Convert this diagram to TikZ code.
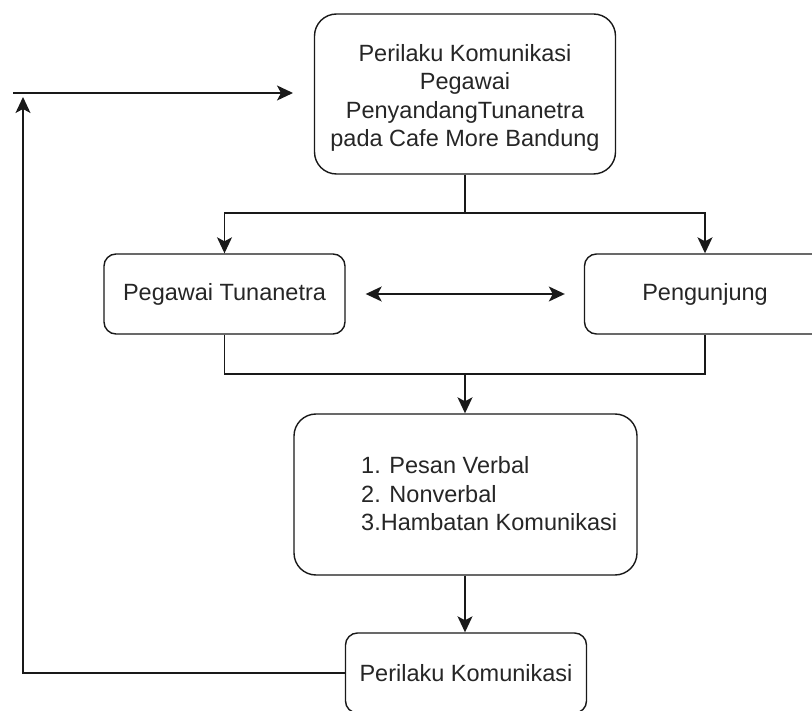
\documentclass[tikz,border=0pt]{standalone}
\usepackage{fontspec}
\setmainfont{Liberation Sans}
\usetikzlibrary{arrows.meta}
\begin{document}
\begin{tikzpicture}[x=1pt,y=-1pt,
  every node/.style={font=\fontsize{23.5}{28.5}\selectfont, text=black!85},
  box/.style={draw=black!90, line width=1.4pt, rounded corners=12pt, minimum width=241pt, minimum height=80pt, inner sep=0pt},
  bigbox/.style={box, rounded corners=22pt},
  conn/.style={draw=black!90, line width=1.4pt},
  tip/.style={Stealth[length=16pt,width=15pt,inset=4pt]},
  arr/.style={conn, -{Stealth[length=16pt,width=15pt,inset=4pt]}},
  darr/.style={conn, {Stealth[length=16pt,width=15pt,inset=4pt]}-{Stealth[length=16pt,width=15pt,inset=4pt]}}
]
\useasboundingbox (0,0) rectangle (812,711);
\clip (0,0) rectangle (812,711);
\fill[white] (0,0) rectangle (812,711);

\node[bigbox, minimum width=301pt, minimum height=160pt] (top) at (465,94) {};
\node[align=center, inner sep=0pt] (toptext) at (465,98)
  {Perilaku Komunikasi\\Pegawai\\PenyandangTunanetra\\pada Cafe More Bandung};
\node[box] (peg) at (224.5,294) {Pegawai Tunanetra};
\node[box] (pen) at (705,294) {Pengunjung};
\node[bigbox, minimum width=343pt, minimum height=161pt] (mid) at (465.5,494.5) {};
\node[anchor=west, align=left, inner sep=0pt] (midtext) at (361,494)
  {1. Pesan Verbal\\2. Nonverbal\\3.Hambatan Komunikasi};
\node[box] (bot) at (466,673) {Perilaku Komunikasi};

\coordinate (split) at (465,213);
\coordinate (join) at (465,374);
\coordinate (loopc) at (23,97);
\coordinate (fb) at (13,93);
\coordinate (fbend) at (293,93);

\draw[conn] (top.south) -- (split);
\draw[arr] (split) -| (peg.north);
\draw[arr] (split) -| (pen.north);
\draw[darr, shorten <=20pt, shorten >=19pt] (peg.east) -- (pen.west);
\draw[conn] (peg.south) |- (join) -| (pen.south);
\draw[arr] (join) -- (join |- mid.north);
\draw[arr] (join |- mid.south) -- (join |- bot.north);
\draw[arr] (bot.west) -| (loopc);
\draw[arr] (fb) -- (fbend);
\end{tikzpicture}
\end{document}
